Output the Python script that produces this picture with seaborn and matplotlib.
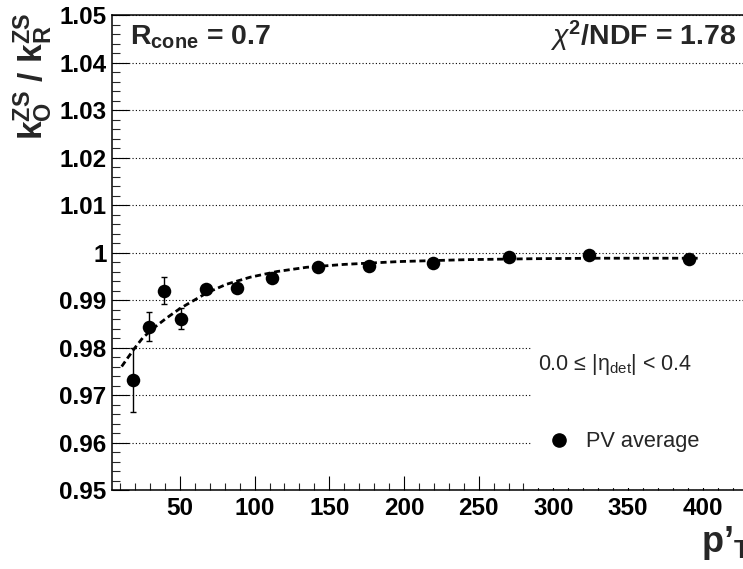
import seaborn as sns
import matplotlib.pyplot as plt
import pandas as pd
from matplotlib.lines import Line2D
from matplotlib.patches import Rectangle
from matplotlib.ticker import MultipleLocator, FixedLocator, FixedFormatter

# PV average points
pt = [18.7, 29.2, 39.3, 50.7, 67.4, 87.9, 111.6, 142.4, 176.3, 219.5, 270.0, 324.0, 390.9]
ratio = [0.9732, 0.9844, 0.9920, 0.9861, 0.9923, 0.9926, 0.9946, 0.9969,
         0.9972, 0.9977, 0.9991, 0.9995, 0.9986]
ratio_err = [0.0067, 0.0030, 0.0029, 0.0023, 0.0007, 0.0007, 0.0006, 0.0005,
             0.0005, 0.0005, 0.0005, 0.0005, 0.0005]

# fit curve
fit_pt = [11, 15, 20, 25, 32, 41, 50, 57, 68, 81, 97, 115, 135, 160, 197, 242, 287, 331, 399]
fit_ratio = [0.9760, 0.9778, 0.9800, 0.9820, 0.9840, 0.9862, 0.9882, 0.9895, 0.9915,
             0.9933, 0.9948, 0.9960, 0.9969, 0.9975, 0.9981, 0.9985, 0.9987, 0.9988, 0.9988]

yticks = [0.95, 0.96, 0.97, 0.98, 0.99, 1.00, 1.01, 1.02, 1.03, 1.04, 1.05]
ytick_labels = ["0.95", "0.96", "0.97", "0.98", "0.99", "1", "1.01", "1.02", "1.03", "1.04", "1.05"]
xticks = [50, 100, 150, 200, 250, 300, 350, 400]

sns.set_theme(style="white")
plt.rcParams["font.family"] = ["Liberation Sans", "DejaVu Sans"]
plt.rcParams["mathtext.fontset"] = "custom"
plt.rcParams["mathtext.rm"] = "Liberation Sans"
plt.rcParams["mathtext.it"] = "Liberation Sans:italic"
plt.rcParams["mathtext.bf"] = "Liberation Sans:bold"

fig = plt.figure(figsize=(7.43, 5.69), dpi=100)
ax = fig.add_axes([0.1507, 0.1388, 0.8493, 0.8348])

df = pd.DataFrame({"pt": pt, "ratio": ratio, "err": ratio_err})
fit = pd.DataFrame({"pt": fit_pt, "ratio": fit_ratio})

sns.lineplot(data=fit, x="pt", y="ratio", color="black", lw=2,
             linestyle=(0, (2.2, 1.3)), ax=ax, zorder=2)
ax.errorbar(df["pt"], df["ratio"], yerr=df["err"], fmt="none", ecolor="black",
            elinewidth=1, capsize=2.5, capthick=1, zorder=3)
sns.scatterplot(data=df, x="pt", y="ratio", color="black", s=95, linewidth=0,
                ax=ax, zorder=4)

ax.set_xlim(4.5, 427)
ax.set_ylim(0.95, 1.05)

ax.xaxis.set_major_locator(FixedLocator(xticks))
ax.xaxis.set_minor_locator(MultipleLocator(10))
ax.yaxis.set_major_locator(FixedLocator(yticks))
ax.yaxis.set_major_formatter(FixedFormatter(ytick_labels))
ax.yaxis.set_minor_locator(MultipleLocator(0.002))

ax.tick_params(axis="x", which="major", direction="in", length=10, width=0.8,
               labelsize=17.5, pad=5, bottom=True, colors="black")
ax.tick_params(axis="x", which="minor", direction="in", length=5, width=0.8, bottom=True)
ax.tick_params(axis="y", which="major", direction="in", length=12, width=0.8,
               labelsize=17.5, pad=4, left=True, colors="black")
ax.tick_params(axis="y", which="minor", direction="in", length=6, width=0.8, left=True)
for lab in ax.get_xticklabels() + ax.get_yticklabels():
    lab.set_fontweight("bold")

ax.yaxis.grid(True, which="major", linestyle=(0, (1, 2)), color="black", lw=0.8)
ax.xaxis.grid(False)

for s in ["left", "bottom", "top"]:
    ax.spines[s].set_color("black")
    ax.spines[s].set_linewidth(1.1)
ax.spines["right"].set_visible(False)

ax.set_ylabel(r"$\mathbf{k_{O}^{ZS}\ /\ k_{R}^{ZS}}$", fontsize=24)
ax.yaxis.set_label_coords(-0.1094, 1.004)
ax.yaxis.label.set_ha("right")
ax.yaxis.label.set_va("baseline")

ax.set_xlabel("p\u2019$_{\\mathbf{T}}$", fontsize=26, fontweight="bold")
ax.xaxis.set_label_coords(0.9335, -0.1305)
ax.xaxis.label.set_ha("left")
ax.xaxis.label.set_va("baseline")

ax.text(0.0285, 0.937, r"R$_{\mathbf{cone}}$ = 0.7", transform=ax.transAxes,
        fontsize=20.5, fontweight="bold", ha="left", va="baseline")
ax.text(0.99, 0.937, r"$\chi^{\mathbf{2}}$/NDF = 1.78", transform=ax.transAxes,
        fontsize=20.5, fontweight="bold", ha="right", va="baseline")

# white legend area
ax.add_patch(Rectangle((0.6656, 0.005), 0.34, 0.374, transform=ax.transAxes,
                       facecolor="white", edgecolor="none", zorder=1))
ax.text(0.797, 0.2526, "0.0 \u2264 |\u03b7$_{\\mathrm{det}}$| < 0.4", transform=ax.transAxes,
        fontsize=15.5, ha="center", va="baseline", zorder=5)
handle = Line2D([], [], marker="o", color="black", ls="none", markersize=9.5)
ax.legend(handles=[handle], labels=["PV average"], loc="center left",
          bbox_to_anchor=(0.6916, 0.1017), frameon=False, fontsize=15.7,
          handlelength=1.0, handletextpad=0.71, borderpad=0, borderaxespad=0)

fig.savefig("out.png", dpi=100)
